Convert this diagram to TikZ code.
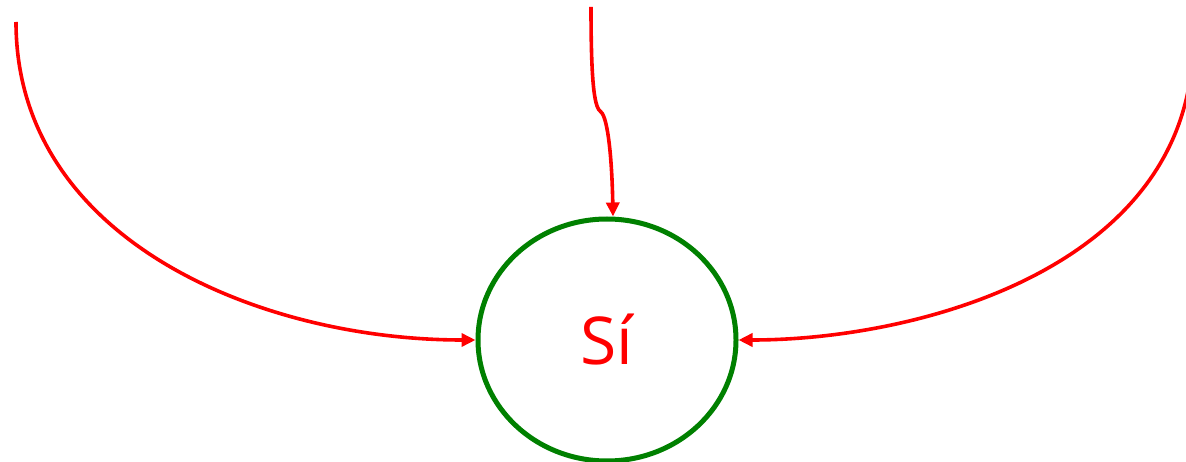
\documentclass[tikz,border=0pt]{standalone}
\usepackage{fontspec}
\setmainfont{Open Sans}
\usetikzlibrary{arrows.meta,shapes.geometric}
\definecolor{sigreen}{RGB}{0,128,0}
\definecolor{sired}{RGB}{255,0,0}
\tikzset{
  statenode/.style={draw=sigreen, line width=5pt, ellipse, minimum width=258pt, minimum height=242pt, inner sep=0pt, text=sired, font=\fontsize{66}{66}\selectfont},
  edge/.style={draw=sired, line width=3.6pt, -{Triangle[length=14pt,width=13pt]}}
}
\begin{document}
\begin{tikzpicture}[x=1pt,y=-1pt]
\useasboundingbox (0,0) rectangle (1186,462);
\node[statenode] (si) at (607,340) {Sí};
\coordinate (lstart) at (16,22);
\coordinate (rstart) at (1190,80);
\coordinate (mstart) at (591,7);
\coordinate (mkink) at (601,112);
\path[edge] (lstart) .. controls (16,240) and (260,340) .. (si.west);
\path[edge] (rstart) .. controls (1160,275) and (910,340) .. (si.east);
\path[edge] (mstart) .. controls (591,90) and (595,108) .. (mkink) .. controls (608,118) and (612,160) .. ([xshift=6pt]si.north);
\end{tikzpicture}
\end{document}
